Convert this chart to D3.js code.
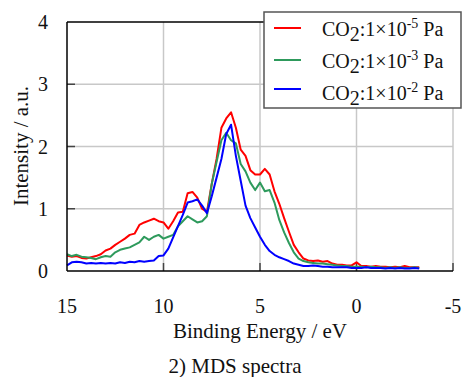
<!DOCTYPE html>
<html><head><meta charset="utf-8">
<script src="https://cdn.jsdelivr.net/npm/d3@7"></script>
</head><body style="margin:0"><svg id="c" width="462" height="377"></svg>
<script>
const energies = [15,14.75,14.5,14.25,14,13.75,13.5,13.25,13,12.75,12.5,12.25,12,11.75,11.5,11.25,11,10.75,10.5,10.25,10,9.75,9.5,9.25,9,8.75,8.5,8.25,8,7.75,7.5,7.25,7,6.75,6.5,6.25,6,5.75,5.5,5.25,5,4.75,4.5,4.25,4,3.75,3.5,3.25,3,2.75,2.5,2.25,2,1.75,1.5,1.25,1,0.75,0.5,0.25,0,-0.25,-0.5,-0.75,-1,-1.25,-1.5,-1.75,-2,-2.25,-2.5,-2.75,-3,-3.25];
const red = [0.25,0.23,0.24,0.21,0.2,0.22,0.24,0.27,0.33,0.36,0.42,0.47,0.52,0.58,0.6,0.74,0.78,0.81,0.84,0.8,0.78,0.68,0.8,0.94,0.95,1.25,1.27,1.18,1.0,0.95,1.4,1.8,2.3,2.45,2.55,2.3,1.95,1.85,1.62,1.55,1.55,1.64,1.55,1.28,1.08,0.85,0.63,0.42,0.3,0.2,0.17,0.16,0.17,0.15,0.16,0.12,0.1,0.1,0.09,0.09,0.14,0.08,0.08,0.07,0.08,0.07,0.07,0.06,0.07,0.06,0.08,0.06,0.06,0.06];
const green = [0.27,0.24,0.26,0.23,0.22,0.21,0.19,0.22,0.24,0.23,0.3,0.34,0.36,0.38,0.42,0.46,0.55,0.5,0.55,0.58,0.52,0.55,0.58,0.72,0.8,0.88,0.83,0.78,0.8,0.88,1.4,1.75,2.1,2.22,2.1,2.05,1.72,1.6,1.42,1.3,1.42,1.28,1.3,1.1,0.82,0.62,0.45,0.3,0.2,0.16,0.14,0.13,0.12,0.12,0.11,0.1,0.09,0.08,0.08,0.07,0.07,0.07,0.06,0.07,0.06,0.06,0.05,0.06,0.05,0.06,0.05,0.05,0.06,0.05];
const blue = [0.09,0.14,0.15,0.14,0.12,0.13,0.12,0.13,0.12,0.13,0.12,0.14,0.13,0.15,0.14,0.16,0.15,0.16,0.17,0.24,0.25,0.36,0.54,0.72,0.9,1.1,1.12,1.15,1.05,0.93,1.2,1.5,1.8,2.2,2.35,1.85,1.45,1.05,0.85,0.7,0.55,0.42,0.32,0.26,0.22,0.19,0.16,0.12,0.1,0.08,0.08,0.09,0.08,0.07,0.07,0.06,0.06,0.06,0.06,0.05,0.05,0.05,0.06,0.05,0.05,0.05,0.04,0.05,0.04,0.05,0.04,0.04,0.05,0.04];
const exponents = ["-5","-3","-2"];
const colors = ["#ff0000","#2e9a5c","#0000ff"];
const xTicks = [15,10,5,0,-5];
const yTicks = [0,1,2,3,4];

const svg = d3.select("#c");
const L=67,R=453,T=22,B=271;
const x = d3.scaleLinear().domain([15,-5]).range([L,R]);
const y = d3.scaleLinear().domain([0,4]).range([B,T]);
function txt(sel){ return sel.attr("font-family","Liberation Serif").style("font-family","'Liberation Serif'").attr("fill","#111"); }

svg.append("g").selectAll("line").data(xTicks.filter(d=>d!==15)).join("line")
  .attr("x1",d=>x(d)).attr("x2",d=>x(d)).attr("y1",T).attr("y2",B)
  .attr("stroke","#c8c8c8").attr("stroke-width",1.5);
svg.append("g").selectAll("line").data(yTicks.filter(d=>d>0&&d<4)).join("line")
  .attr("x1",L).attr("x2",R).attr("y1",d=>y(d)).attr("y2",d=>y(d))
  .attr("stroke","#c8c8c8").attr("stroke-width",1.5);
svg.append("g").selectAll("line").data(yTicks.filter(d=>d>0&&d<4)).join("line")
  .attr("x1",L).attr("x2",L+8).attr("y1",d=>y(d)).attr("y2",d=>y(d))
  .attr("stroke","#444").attr("stroke-width",1.5);
svg.append("g").selectAll("line").data(xTicks.filter(d=>d!==15)).join("line")
  .attr("x1",d=>x(d)).attr("x2",d=>x(d)).attr("y1",B).attr("y2",B-8)
  .attr("stroke","#444").attr("stroke-width",1.5);

const line = d3.line().x((d,i)=>x(energies[i])).y(d=>y(d));
[red,green,blue].forEach((s,k)=>{
  svg.append("path").datum(s).attr("d",line).attr("fill","none")
    .attr("stroke",colors[k]).attr("stroke-width",2).attr("stroke-linejoin","round");
});

svg.append("line").attr("x1",L).attr("x2",L).attr("y1",T).attr("y2",B).attr("stroke","#000").attr("stroke-width",1.5);
svg.append("line").attr("x1",L).attr("x2",R).attr("y1",B).attr("y2",B).attr("stroke","#000").attr("stroke-width",1.5);
svg.append("line").attr("x1",L).attr("x2",R).attr("y1",T).attr("y2",T).attr("stroke","#000").attr("stroke-width",1.5);

yTicks.forEach(d=>txt(svg.append("text")).attr("x",43).attr("y",y(d)+7).attr("text-anchor","middle").attr("font-size",20).text(d));
xTicks.forEach(d=>txt(svg.append("text")).attr("x",x(d)).attr("y",313).attr("text-anchor","middle").attr("font-size",20).text(d));

txt(svg.append("text")).attr("x",260).attr("y",338).attr("text-anchor","middle").attr("font-size",21).text("Binding Energy / eV");
txt(svg.append("text")).attr("transform","translate(28,146) rotate(-90)").attr("text-anchor","middle").attr("font-size",21).text("Intensity / a.u.");
txt(svg.append("text")).attr("x",235).attr("y",373).attr("text-anchor","middle").attr("font-size",21).text("2) MDS spectra");

svg.append("rect").attr("x",264).attr("y",12).attr("width",197).attr("height",96)
  .attr("fill","#fff").attr("stroke","#555").attr("stroke-width",1.5);
const rowsY=[36,68,100], lineY=[28,60,89];
exponents.forEach((e,i)=>{
  svg.append("line").attr("x1",274).attr("x2",301).attr("y1",lineY[i]).attr("y2",lineY[i])
    .attr("stroke",colors[i]).attr("stroke-width",2);
  const t = txt(svg.append("text")).attr("x",322).attr("y",rowsY[i]).attr("font-size",20);
  t.append("tspan").text("CO");
  t.append("tspan").attr("dy",5).text("2");
  t.append("tspan").attr("dy",-5).text(":1×10");
  t.append("tspan").attr("dy",-8).attr("font-size",14).text(e);
  t.append("tspan").attr("dy",8).text(" Pa");
});
</script></body></html>
